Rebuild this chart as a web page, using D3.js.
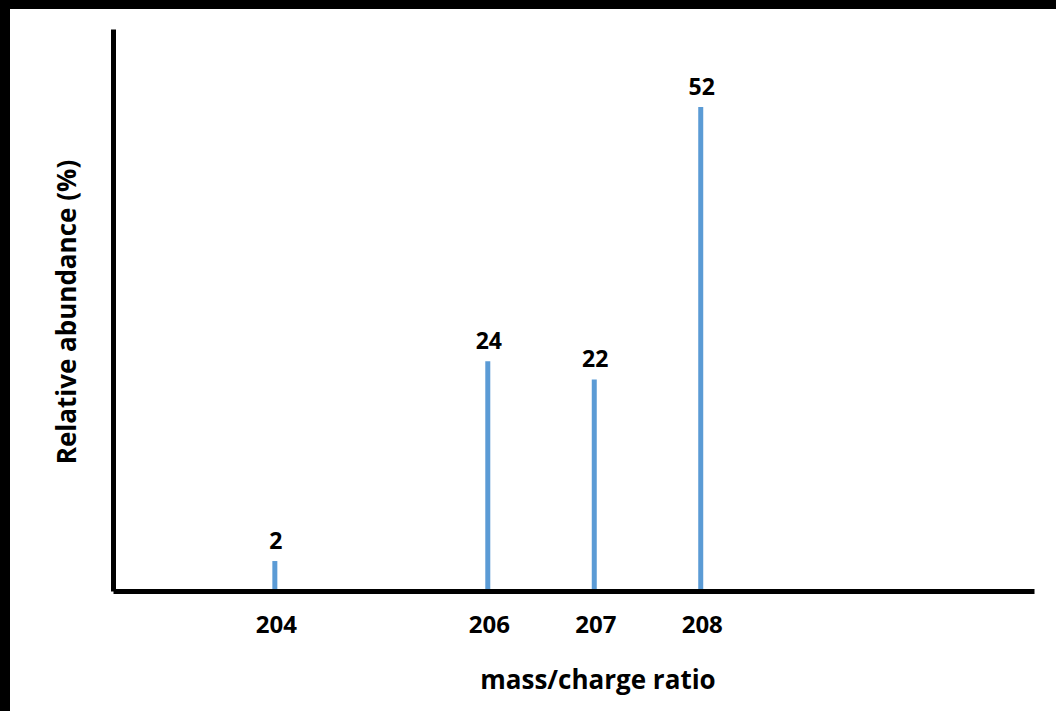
<!DOCTYPE html>
<html>
<head>
<meta charset="utf-8">
<script src="https://cdn.jsdelivr.net/npm/d3@7"></script>
<style>
  html, body { margin: 0; padding: 0; background: #fff; }
  svg { display: block; }
  text { font-family: "Open Sans", "Noto Sans", sans-serif; font-weight: bold; fill: #000; }
</style>
</head>
<body>
<svg id="chart" width="1056" height="711"></svg>
<script>
// Data
const masses = [204, 206, 207, 208];
const abundances = [2, 24, 22, 52];
const tickLabels = ["204", "206", "207", "208"];
const xTitle = "mass/charge ratio";
const yTitle = "Relative abundance (%)";

const svg = d3.select("#chart");
const W = 1056, H = 711;

// background and black frame bands
svg.append("rect").attr("x", 0).attr("y", 0).attr("width", W).attr("height", H).attr("fill", "#fff");
svg.append("rect").attr("x", 0).attr("y", 0).attr("width", W).attr("height", 9).attr("fill", "#000");
svg.append("rect").attr("x", 0).attr("y", 0).attr("width", 10).attr("height", H).attr("fill", "#000");

const x = d3.scaleLinear().domain([202.48, 211.13]).range([113, 1034]);
const y = d3.scaleLinear().domain([-1.3, 60.6]).range([591, 29]);

// x axis
const xAxis = svg.append("g")
  .attr("transform", `translate(0,${y.range()[0]})`)
  .call(d3.axisBottom(x).tickValues(masses).tickFormat((d, i) => tickLabels[i]).tickSize(0).tickPadding(25));
xAxis.select(".domain").attr("stroke", "#000").attr("stroke-width", 5);
xAxis.selectAll("text").attr("font-size", 24).attr("dx", 1)
  .style("font-family", '"Open Sans", sans-serif').style("font-weight", "bold").attr("fill", "#000");

// y axis
const yAxis = svg.append("g")
  .attr("transform", `translate(${x.range()[0]},0)`)
  .call(d3.axisLeft(y).tickValues([]).tickSize(0));
yAxis.select(".domain").attr("stroke", "#000").attr("stroke-width", 5);

// bars (sticks)
svg.append("g").selectAll("line").data(masses).join("line")
  .attr("x1", d => x(d)).attr("x2", d => x(d))
  .attr("y1", y.range()[0] - 2)
  .attr("y2", (d, i) => y(abundances[i]))
  .attr("stroke", "#5b9bd5").attr("stroke-width", 5);

// value labels
svg.append("g").selectAll("text").data(masses).join("text")
  .attr("x", d => x(d) + 1)
  .attr("y", (d, i) => y(abundances[i]) - 12)
  .attr("text-anchor", "middle")
  .attr("font-size", 23)
  .text((d, i) => abundances[i]);

// axis titles
svg.append("text").attr("x", 598).attr("y", 689).attr("text-anchor", "middle")
  .attr("font-size", 26).text(xTitle);
svg.append("text").attr("transform", "translate(76,312) rotate(-90)").attr("text-anchor", "middle")
  .attr("font-size", 26).text(yTitle);
</script>
</body>
</html>
